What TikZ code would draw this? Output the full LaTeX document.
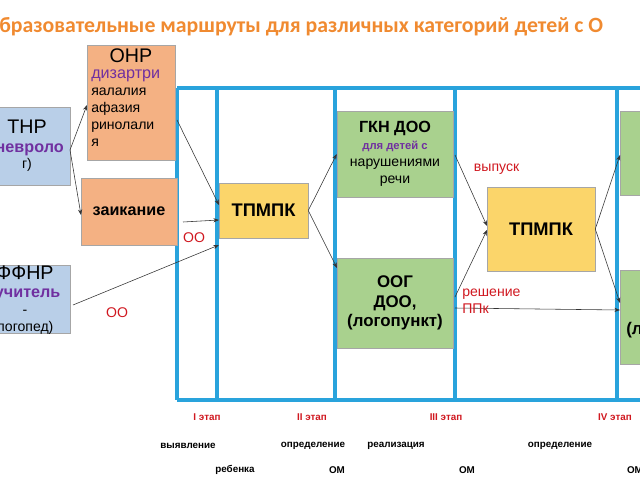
\documentclass[tikz,border=0pt]{standalone}
\usepackage{fontspec}
\setmainfont{Liberation Sans}
\newfontfamily\titlefont{Carlito}
\usepackage{tikz}
\usetikzlibrary{arrows.meta}
\definecolor{lineblue}{HTML}{29A3DC}
\definecolor{boxblue}{HTML}{B9CFE8}
\definecolor{boxorange}{HTML}{F4B183}
\definecolor{boxgreen}{HTML}{A9D18E}
\definecolor{boxyellow}{HTML}{FBD56A}
\definecolor{txtpurple}{HTML}{7030A0}
\definecolor{txtred}{HTML}{D01820}
\definecolor{titleorange}{HTML}{F08A30}
\tikzset{box/.style={draw=black!35, inner sep=1pt, align=center}}
\tikzset{flow/.style={-{Stealth[length=4pt,width=3pt]}, black!80, thin}}
\tikzset{lane/.style={lineblue, line width=2.2pt}}
\tikzset{redlbl/.style={txtred, font=\fontsize{10}{12}\selectfont}}
\begin{document}
\begin{tikzpicture}[x=0.025cm,y=-0.025cm]
	% Frame
	\useasboundingbox (0,0) rectangle (640,480);
	\clip (0,0) rectangle (640,480);
	\node[anchor=west, inner sep=0, font=\titlefont\bfseries\fontsize{15.5}{18}\selectfont, text=titleorange] (title) at (-1,27) {бразовательные маршруты для различных категорий детей с О};

	% Lanes
	\draw[lane] (177,88) -- (660,88);
	\draw[lane] (177,400) -- (660,400);
	\foreach \x in {177,217,335,455,617} \draw[lane] (\x,88) -- (\x,400);

	% Left column
	\path[fill=boxblue, draw=black!35] (-20,107) rectangle (70,185);
	\node[align=center, inner sep=0] (thr) at (27,146) {\fontsize{14}{16}\selectfont ТНР\\[1pt]\color{txtpurple}\bfseries\fontsize{11.5}{15}\selectfont (невроло\\г)};
	\path[fill=boxblue, draw=black!35] (-20,265) rectangle (70,333);
	\node[align=center, inner sep=0] (ffnr) at (25,300) {\fontsize{14}{16}\selectfont ФФНР\\[1pt]\color{txtpurple}\bfseries\fontsize{11.5}{14}\selectfont (учитель\\-\\логопед)};

	\node[box, fill=boxorange, minimum width=88*0.025cm, minimum height=115*0.025cm] (onr) at (131,102.5) {};
	\node[align=left, inner sep=0, anchor=north west] (onrtxt) at (91,48) {\hspace*{13pt}\fontsize{14}{16}\selectfont ОНР\\\color{txtpurple}\fontsize{11.5}{15}\selectfont дизартри\\яалалия\\афазия\\ринолали\\я};
	\node[box, fill=boxorange, minimum width=96*0.025cm, minimum height=67*0.025cm, font=\bfseries\fontsize{11.5}{14}\selectfont] (zaik) at (129,211.5) {заикание};

	% Middle
	\node[box, fill=boxyellow, minimum width=89*0.025cm, minimum height=55*0.025cm, font=\bfseries\fontsize{13}{15}\selectfont] (tpmpk1) at (263.5,210.5) {ТПМПК};
	\node[box, fill=boxgreen, minimum width=116*0.025cm, minimum height=86*0.025cm] (gkn) at (395,154) {\bfseries\fontsize{11.5}{14}\selectfont ГКН ДОО\\\color{txtpurple}\bfseries\fontsize{8}{10}\selectfont для детей с\\нарушениями\\речи};
	\node[box, fill=boxgreen, minimum width=116*0.025cm, minimum height=90*0.025cm, font=\bfseries\fontsize{12}{14}\selectfont] (oog) at (395,303) {ООГ\\ДОО,\\(логопункт)};
	\node[box, fill=boxyellow, minimum width=108*0.025cm, minimum height=84*0.025cm, font=\bfseries\fontsize{13}{15}\selectfont] (tpmpk2) at (541,229) {ТПМПК};

	% Right (cut off)
	\node[box, fill=boxgreen, anchor=north west, minimum width=60*0.025cm, minimum height=84*0.025cm] (rtop) at (620,111) {};
	\node[box, fill=boxgreen, anchor=north west, minimum width=60*0.025cm, minimum height=94*0.025cm] (rbot) at (620,270) {};
	\node[anchor=west, inner sep=0, font=\bfseries\fontsize{12}{14}\selectfont] (rbottxt) at (626,330) {(л};

	% Arrows
	\coordinate (thr out) at (70,150);
	\draw[flow] (thr out) -- (87,105);
	\draw[flow] (thr out) -- (81,215);
	\draw[flow] (177,120) -- (219,205);
	\draw[flow] (183,222) -- (219,220);
	\draw[flow] (73,305) -- (219,245);
	\draw[flow] (tpmpk1.east) -- (gkn.west);
	\draw[flow] (tpmpk1.east) -- (337,268);
	\draw[flow] (455,155) -- (487,226);
	\draw[flow] (455,297) -- (487,230);
	\draw[flow] (455,308) -- (620,310);
	\draw[flow] (tpmpk2.east) -- (620,155);
	\draw[flow] (tpmpk2.east) -- (620,303);

	% Red labels
	\node[redlbl] (oo1) at (194,238) {ОО};
	\node[redlbl] (oo2) at (117,313) {ОО};
	\node[redlbl, anchor=west] (vyp) at (469,169) {выпуск};
	\node[redlbl, anchor=north west, align=left, inner sep=0] (resh) at (462,289) {решение\\ППк};

	% Stages
	\foreach \x/\t in {207/I этап, 312/II этап, 446/III этап, 615/IV этап}
		\node[txtred, font=\bfseries\fontsize{7}{8}\selectfont] at (\x,417) {\t};
	\foreach \x/\t in {188/выявление, 313/определение, 396/реализация, 560/определение}
		\node[font=\bfseries\fontsize{7}{8}\selectfont] at (\x,446) {\t};
	\foreach \x/\t in {235/ребенка, 337/ОМ, 467/ОМ, 635/ОМ}
		\node[font=\bfseries\fontsize{7}{8}\selectfont] at (\x,470) {\t};
\end{tikzpicture}
\end{document}
